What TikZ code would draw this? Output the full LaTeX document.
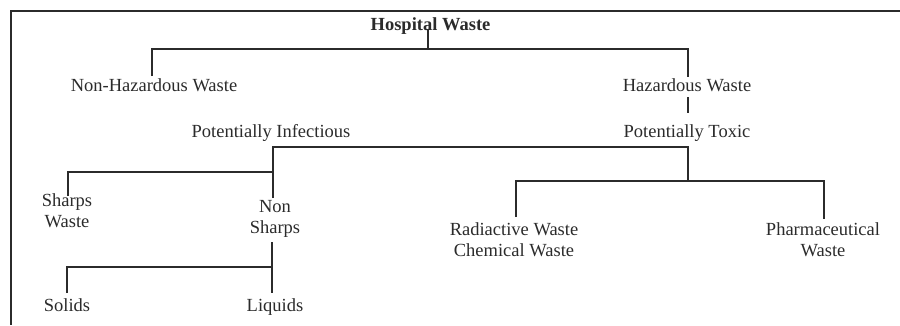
\documentclass[tikz,border=0pt]{standalone}
\usepackage{fontspec}
\setmainfont{Liberation Serif}
\definecolor{ink}{HTML}{2B2B2B}
\begin{document}
\begin{tikzpicture}[x=1pt,y=-1pt,
  lbl/.style={anchor=base, inner sep=0pt, font=\fontsize{18.5}{21}\selectfont, align=center, text=ink},
  boldlbl/.style={lbl, font=\fontsize{18.5}{21}\selectfont\bfseries},
  conn/.style={draw=ink, line width=1.2pt}]
\useasboundingbox (0,0) rectangle (900,325);
% frame
\coordinate (frTR) at (900,11);
\coordinate (frTL) at (11,11);
\coordinate (frBL) at (11,325);
\draw[conn] (frTR) -- (frTL) -- (frBL);
% labels (multi-line nodes: base = baseline of last line)
\node[boldlbl] (hosp) at (430.5,30) {Hospital Waste};
\node[lbl] (nonhaz) at (154,91) {Non-Hazardous Waste};
\node[lbl] (haz) at (687,91) {Hazardous Waste};
\node[lbl] (pinf) at (271,137) {Potentially Infectious};
\node[lbl] (ptox) at (687,137) {Potentially Toxic};
\node[lbl] (sharps) at (67,227) {Sharps\\Waste};
\node[lbl] (nonsharps) at (275,233.5) {Non\\Sharps};
\node[lbl] (solids) at (67,311) {Solids};
\node[lbl] (liquids) at (275,311) {Liquids};
\node[lbl] (radchem) at (514,256) {Radiactive Waste\\Chemical Waste};
\node[lbl] (pharma) at (823,256) {Pharmaceutical\\Waste};
% connector points
\coordinate (hospD) at (428,29);
\coordinate (j1) at (428,49);
\coordinate (j1L) at (152,49);
\coordinate (nhTop) at (152,76);
\coordinate (j1R) at (688,49);
\coordinate (hzTop) at (688,77);
\coordinate (hzBot) at (688,97);
\coordinate (hzEnd) at (688,113);
\coordinate (ptA) at (688,147);
\coordinate (ptB) at (688,181.5);
\coordinate (piA) at (273,147);
\coordinate (piB) at (273,172);
\coordinate (piEnd) at (273,198);
\coordinate (swA) at (68,172);
\coordinate (swTop) at (68,196);
\coordinate (nsBot) at (272,242);
\coordinate (nsB) at (272,267);
\coordinate (nsEnd) at (272,293);
\coordinate (solA) at (67,267);
\coordinate (solTop) at (67,293);
\coordinate (tL) at (516,181);
\coordinate (radTop) at (516,217);
\coordinate (tR) at (824,181);
\coordinate (phTop) at (824,219);
% connectors
\draw[conn] (hospD) -- (j1);
\draw[conn] (nhTop) -- (j1L) -- (j1R) -- (hzTop);
\draw[conn] (hzBot) -- (hzEnd);
\draw[conn] (piEnd) -- (piA) -- (ptA) -- (ptB);
\draw[conn] (swTop) -- (swA) -- (piB);
\draw[conn] (radTop) -- (tL) -- (tR) -- (phTop);
\draw[conn] (nsBot) -- (nsEnd);
\draw[conn] (solTop) -- (solA) -- (nsB);
\end{tikzpicture}
\end{document}
